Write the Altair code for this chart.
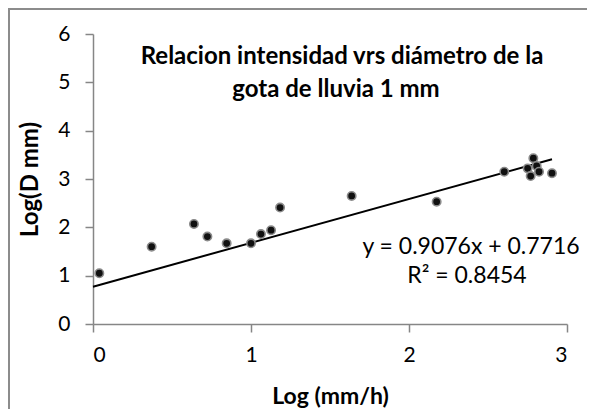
import altair as alt
import pandas as pd

# data
x_vals = [0.040, 0.371, 0.639, 0.724, 0.846, 1.000, 1.063, 1.127, 1.184,
          1.637, 2.175, 2.603, 2.751, 2.770, 2.787, 2.808, 2.823, 2.905]
y_vals = [1.05, 1.60, 2.07, 1.81, 1.67, 1.67, 1.86, 1.94, 2.41,
          2.65, 2.53, 3.15, 3.22, 3.06, 3.43, 3.27, 3.15, 3.12]
slope = 0.9076
intercept = 0.7716
fit_x = [0.0, 2.905]
x_ticks = [0, 1, 2, 3]
y_ticks = [0, 1, 2, 3, 4, 5, 6]
title_lines = ["Relacion intensidad vrs diámetro de la", "gota de lluvia 1 mm"]
eq_lines = ["y = 0.9076x + 0.7716", "R² = 0.8454"]

FONT = "Lato"
GRAY = "#868686"

pts = pd.DataFrame({"x": x_vals, "y": y_vals})
fit = pd.DataFrame({"x": fit_x, "y": [slope * v + intercept for v in fit_x]})

xs = alt.Scale(domain=[0, 3], nice=False, zero=False)
ys = alt.Scale(domain=[0, 6], nice=False, zero=False)

x_axis = alt.Axis(values=x_ticks, format="d", grid=False,
                  domainColor=GRAY, domainWidth=1.5, tickColor=GRAY, tickWidth=1.5, tickSize=8,
                  labelFont=FONT, labelFontSize=21, labelColor="black", labelPadding=12,
                  title="Log (mm/h)", titleFont=FONT, titleFontSize=23, titleFontWeight="bold",
                  titleColor="black", titleY=72, titleBaseline="middle")
y_axis = alt.Axis(values=y_ticks, format="d", grid=False,
                  domainColor=GRAY, domainWidth=1.5, tickColor=GRAY, tickWidth=1.5, tickSize=8,
                  labelFont=FONT, labelFontSize=21, labelColor="black", labelPadding=15,
                  title="Log(D mm)", titleFont=FONT, titleFontSize=24, titleFontWeight="bold",
                  titleColor="black", titleX=-63, titleY=145, titleAngle=-90, titleBaseline="middle")

points = alt.Chart(pts).mark_circle(size=70, color="#111111", opacity=1,
                                    stroke="#8a8a8a", strokeWidth=1.6).encode(
    x=alt.X("x:Q", scale=xs, axis=x_axis),
    y=alt.Y("y:Q", scale=ys, axis=y_axis),
)

line = alt.Chart(fit).mark_line(color="black", strokeWidth=2).encode(
    x=alt.X("x:Q", scale=xs),
    y=alt.Y("y:Q", scale=ys),
)


def text_layer(s, x, y, bold=False, size=19):
    return alt.Chart(pd.DataFrame({"t": [s]})).mark_text(
        font=FONT, fontSize=size, fontWeight="bold" if bold else "normal",
        color="black", align="center", baseline="middle").encode(
        text="t:N", x=alt.value(x), y=alt.value(y))


t1 = text_layer(title_lines[0], 249, 23, bold=True, size=24)
t2 = text_layer(title_lines[1], 243, 56, bold=True, size=24)
e1 = text_layer(eq_lines[0], 378, 213, size=23)
e2 = text_layer(eq_lines[1], 374, 242, size=23)

frame_src = pd.DataFrame({"a": [0]})
frame_left = alt.Chart(frame_src).mark_rule(color="#8c8c8c", strokeWidth=2).encode(
    x=alt.value(-84), y=alt.value(-26), y2=alt.value(420))
frame_top = alt.Chart(frame_src).mark_rule(color="#8c8c8c", strokeWidth=2).encode(
    x=alt.value(-85), x2=alt.value(600), y=alt.value(-25))

chart = alt.layer(frame_left, frame_top, line, points, t1, t2, e1, e2).properties(
    width=474, height=290,
    autosize=alt.AutoSizeParams(type="none"),
    padding={"left": 85, "top": 26, "right": 20, "bottom": 85},
    background="white",
).configure_view(stroke=None)

chart.save("out.html", embed_options={"renderer": "svg", "actions": False})
